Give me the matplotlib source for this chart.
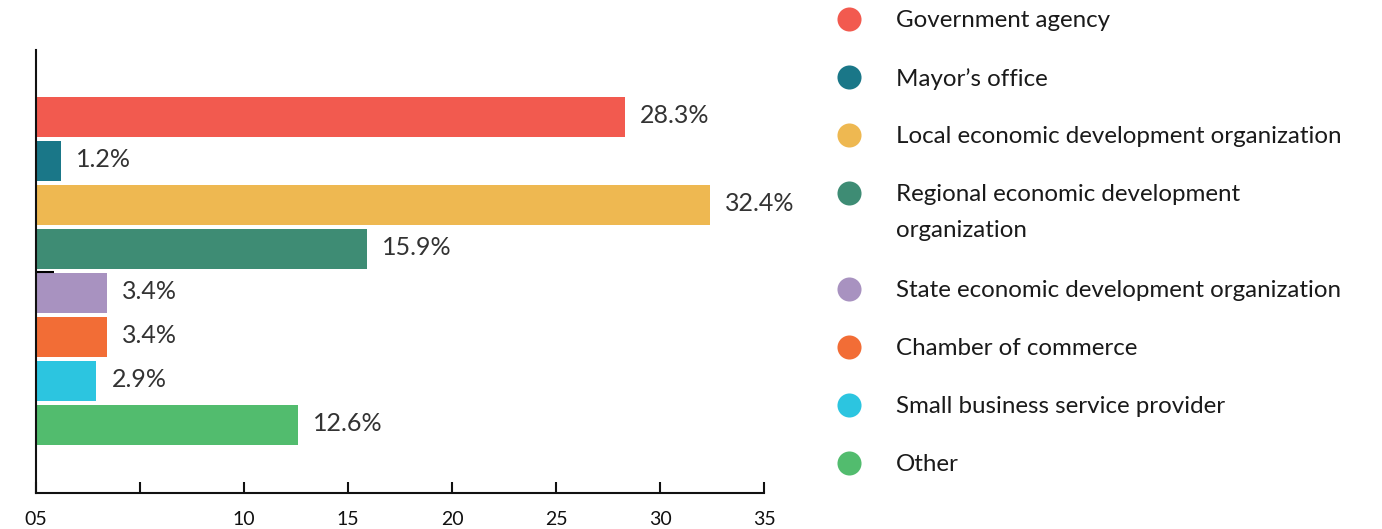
import matplotlib.pyplot as plt
import numpy as np

categories = [
    "Government agency",
    "Mayor\u2019s office",
    "Local economic development organization",
    "Regional economic development\norganization",
    "State economic development organization",
    "Chamber of commerce",
    "Small business service provider",
    "Other",
]
values = [28.3, 1.2, 32.4, 15.9, 3.4, 3.4, 2.9, 12.6]
colors = ["#F25A4F", "#1A7788", "#EEB851", "#3E8C74",
          "#A892C0", "#F26D36", "#2CC5E0", "#52BC6E"]
xticks = [0, 5, 10, 15, 20, 25, 30, 35]
xticklabels = ["05", "", "10", "15", "20", "25", "30", "35"]

plt.rcParams['font.family'] = ['Lato', 'DejaVu Sans']

W, H = 1382, 529
fig = plt.figure(figsize=(W / 100, H / 100), dpi=100)

# bar chart
ax = fig.add_axes([36 / W, 1 - 493 / H, (764 - 36) / W, (493 - 50) / H])
y = np.arange(len(values))
ax.barh(y, values, height=0.9, color=colors)
for yi, v in zip(y, values):
    ax.annotate(f"{v}%", (v, yi), xytext=(11, 1), textcoords="offset points",
                va="center", ha="left", fontsize=18, color="#333333")

ax.set_xlim(0, 35)
ax.set_ylim(8.545, -1.52)
ax.set_xticks(xticks)
ax.set_xticklabels(xticklabels)
ax.set_yticks([(8.545 - 1.52) / 2])
ax.set_yticklabels([])
ax.tick_params(axis="x", direction="in", length=8, width=1.5, labelsize=14,
               pad=13, colors="#111111")
ax.tick_params(axis="y", direction="in", length=13, width=1.5)
for s in ["top", "right"]:
    ax.spines[s].set_visible(False)
for s in ["left", "bottom"]:
    ax.spines[s].set_linewidth(1.5)
    ax.spines[s].set_color("#111111")

# legend drawn by hand so the two-line entry lines up like the original
lg = fig.add_axes([0, 0, 1, 1], zorder=-1)
lg.set_xlim(0, W)
lg.set_ylim(H, 0)
lg.axis("off")
row = 0.0
for name, c in zip(categories, colors):
    cy = 19 + 58.1 * row
    lg.scatter([849], [cy], s=300, color=c, linewidths=0)
    lg.text(896, cy - 9, name, va="top", ha="left", fontsize=17.4,
            color="#1a1a1a", linespacing=1.85)
    row += 1 + 0.65 * name.count("\n")

fig.savefig("out.png", dpi=100)
